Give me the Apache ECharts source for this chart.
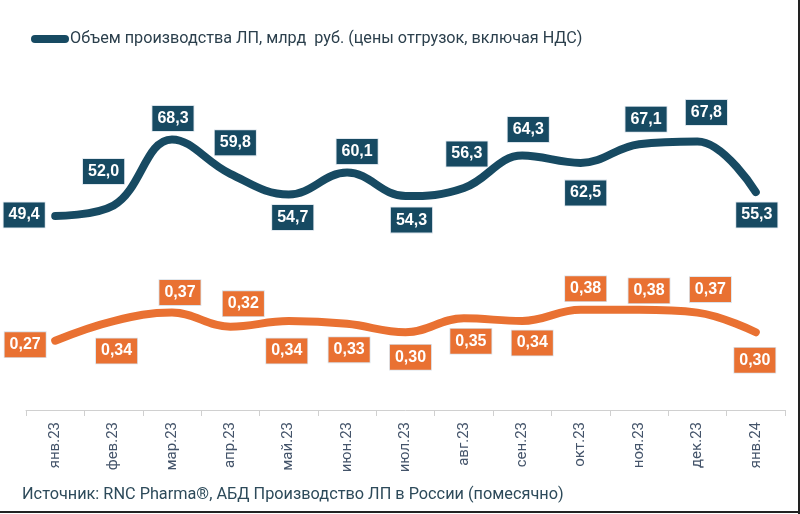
<!DOCTYPE html>
<html><head><meta charset="utf-8">
<script src="https://cdn.jsdelivr.net/npm/echarts@6/dist/echarts.min.js"></script>
<style>html,body{margin:0;padding:0;background:#fff}#c{width:800px;height:514px}</style>
</head><body><div id="c"></div>
<script>
const categories = ['янв.23','фев.23','мар.23','апр.23','май.23','июн.23','июл.23','авг.23','сен.23','окт.23','ноя.23','дек.23','янв.24'];
const volume = [49.4, 52.0, 68.3, 59.8, 54.7, 60.1, 54.3, 56.3, 64.3, 62.5, 67.1, 67.8, 55.3];
const share = [0.27, 0.34, 0.37, 0.32, 0.34, 0.33, 0.30, 0.35, 0.34, 0.38, 0.38, 0.37, 0.30];
const volumeName = 'Объем производства ЛП, млрд  руб. (цены отгрузок, включая НДС)';
const shareName = 'Доля';
const sourceText = 'Источник: RNC Pharma®, АБД Производство ЛП в России (помесячно)';

// label placement styles (offsets of label centre from point)
const volOffsets = [[-31,-1],[-10,-34],[1,-21],[5,-31],[4,23],[10,-21],[6,24],[3,-34],[6,-26],[5,30],[7,-25],[9,-29],[1,23]];
const shareOffsets = [[-30,4],[3,30],[8,-20],[13,-23],[-2,30],[2,26],[5,25],[7,23],[10,22],[5,-21],[10,-19],[13,-23],[-1,28]];

const DARK = '#174a62', ORANGE = '#e97132';
function fmt(v, d){ return v.toFixed(d).replace('.', ','); }
function mk(vals, offs){
  return vals.map((v,i)=>({value:v, label:{offset:offs[i]}}));
}
const labelBase = (color, dec) => ({
  show:true, position:'inside', color:'#fff', fontWeight:'bold', fontSize:16,
  fontFamily:'Liberation Sans, Arial, sans-serif', backgroundColor:color,
  borderColor:'#d9e2ea', borderWidth:0.8, padding:[5,5,4,5],
  formatter: p => fmt(p.value, dec)
});
const chart = echarts.init(document.getElementById('c'), null, {renderer:'canvas'});
chart.setOption({
  animation:false,
  backgroundColor:'#fff',
  legend:{
    data:[volumeName], left:26, top:26,
    icon:'path://M4,0 L34,0 A4,4 0 0 1 34,8 L4,8 A4,4 0 0 1 4,0 Z',
    itemWidth:38, itemHeight:8, itemGap:10,
    textStyle:{color:'#2b3f4c', fontSize:16.2, fontFamily:'Roboto, Liberation Sans, sans-serif', padding:[0,0,0,-4]}
  },
  grid:{left:26, right:15, top:60, bottom:104},
  xAxis:{
    type:'category', data:categories, boundaryGap:true,
    axisLine:{lineStyle:{color:'#d0d0d0', width:1}},
    axisTick:{show:true, length:6, lineStyle:{color:'#d0d0d0'}},
    axisLabel:{rotate:90, color:'#44546a', fontSize:15, margin:12, fontFamily:'Roboto, Liberation Sans, sans-serif'}
  },
  yAxis:[
    {type:'value', min:1.5, max:87.9, show:false, splitLine:{show:false}},
    {type:'value', min:0.023, max:1.27, show:false, splitLine:{show:false}}
  ],
  series:[
    {name:volumeName, type:'line', yAxisIndex:0, data:mk(volume, volOffsets), smooth:0.4,
     symbol:'circle', symbolSize:2, itemStyle:{color:DARK},
     lineStyle:{color:DARK, width:8, cap:'round', join:'round'},
     label:labelBase(DARK,1)},
    {name:shareName, type:'line', yAxisIndex:1, data:mk(share, shareOffsets), smooth:0.4,
     symbol:'circle', symbolSize:2, itemStyle:{color:ORANGE},
     lineStyle:{color:ORANGE, width:8, cap:'round', join:'round'},
     label:labelBase(ORANGE,2)}
  ],
  graphic:[
    {type:'text', left:22, top:487, style:{text:sourceText, fill:'#2d4a5a', fontSize:16.3, fontFamily:'Roboto, Liberation Sans, sans-serif'}},
    {type:'rect', shape:{x:798, y:0, width:2, height:514}, style:{fill:'#222'}},
    {type:'rect', shape:{x:0, y:511, width:800, height:2}, style:{fill:'#222'}}
  ]
});
</script></body></html>
